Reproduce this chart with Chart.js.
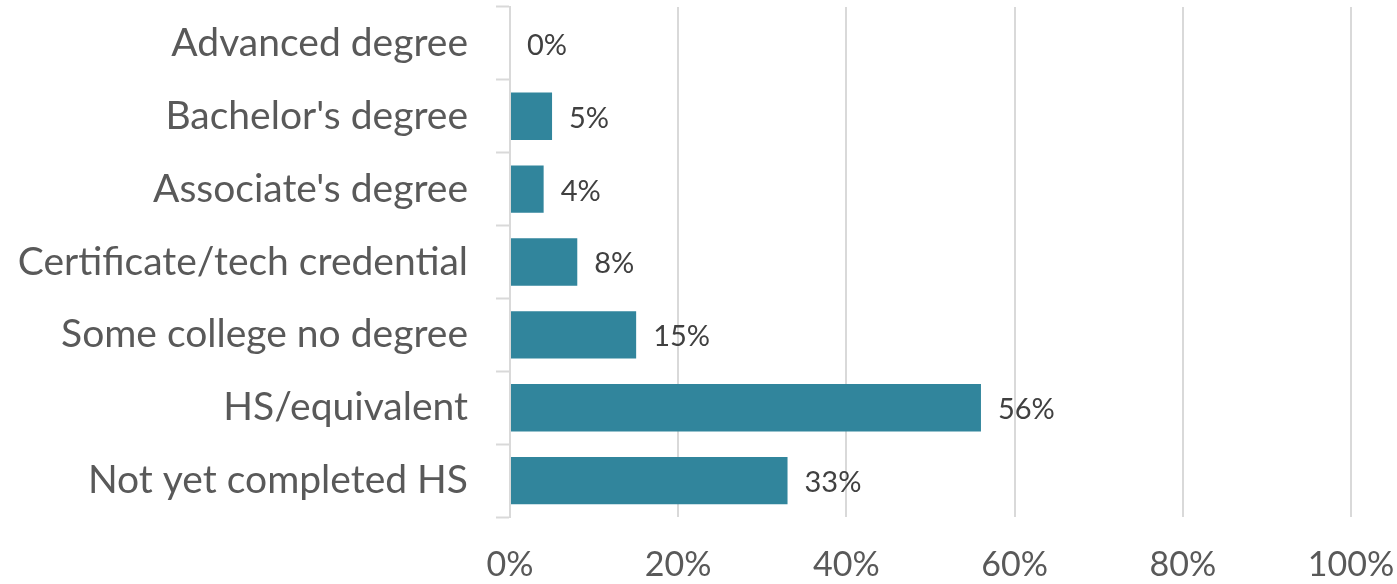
<!DOCTYPE html>
<html>
<head>
<meta charset="utf-8">
<script src="https://cdn.jsdelivr.net/npm/chart.js@4"></script>
<style>
  html, body { margin: 0; padding: 0; background: #fff; }
  #wrap { width: 1397px; height: 584px; }
</style>
</head>
<body>
<div id="wrap"><canvas id="chart" width="1397" height="584"></canvas></div>
<script>
const categories = [
    'Advanced degree',
    "Bachelor's degree",
    "Associate's degree",
    'Certificate/tech credential',
    'Some college no degree',
    'HS/equivalent',
    'Not yet completed HS'
];
const shares = [0, 5, 4, 8, 15, 56, 33];
const xTicks = [0, 20, 40, 60, 80, 100];

const FONT = 'Lato, "Open Sans", sans-serif';

// writes "n%" just past the end of each bar
const barLabels = {
    id: 'barLabels',
    afterDatasetsDraw(chart) {
        const ctx = chart.ctx;
        const meta = chart.getDatasetMeta(0);
        ctx.save();
        ctx.font = '29px ' + FONT;
        ctx.fillStyle = '#404040';
        ctx.textAlign = 'left';
        ctx.textBaseline = 'middle';
        meta.data.forEach((bar, i) => {
            ctx.fillText(shares[i] + '%', bar.x + 17, bar.y + 2);
        });
        ctx.restore();
    }
};

new Chart(document.getElementById('chart'), {
    type: 'bar',
    data: {
        labels: categories,
        datasets: [{
            data: shares,
            backgroundColor: '#31859C',
            borderWidth: 0,
            categoryPercentage: 0.65,
            barPercentage: 1
        }]
    },
    options: {
        indexAxis: 'y',
        responsive: false,
        animation: false,
        layout: { padding: { top: 7, right: 46, left: 0, bottom: 0 } },
        plugins: {
            legend: { display: false },
            tooltip: { enabled: false }
        },
        scales: {
            x: {
                min: 0,
                max: 100,
                afterBuildTicks: (scale) => { scale.ticks = xTicks.map(v => ({ value: v })); },
                afterFit: (scale) => {
                    scale.height = 67;
                    scale.paddingLeft = 0;
                    scale.paddingRight = 0;
                },
                grid: { color: '#d9d9d9', lineWidth: 2, drawTicks: false },
                border: { display: false },
                ticks: {
                    padding: 28,
                    color: '#595959',
                    font: { family: FONT, size: 34 },
                    callback: (v) => v + '%'
                }
            },
            y: {
                afterFit: (scale) => {
                    scale.width = 510;
                    scale.paddingTop = 0;
                    scale.paddingBottom = 0;
                },
                grid: {
                    offset: true,
                    drawOnChartArea: false,
                    drawTicks: true,
                    tickLength: 14,
                    tickColor: '#d9d9d9',
                    tickWidth: 2
                },
                border: { color: '#d9d9d9', width: 2 },
                ticks: {
                    padding: 28,
                    color: '#595959',
                    font: { family: FONT, size: 39 }
                }
            }
        }
    },
    plugins: [barLabels]
});
</script>
</body>
</html>
